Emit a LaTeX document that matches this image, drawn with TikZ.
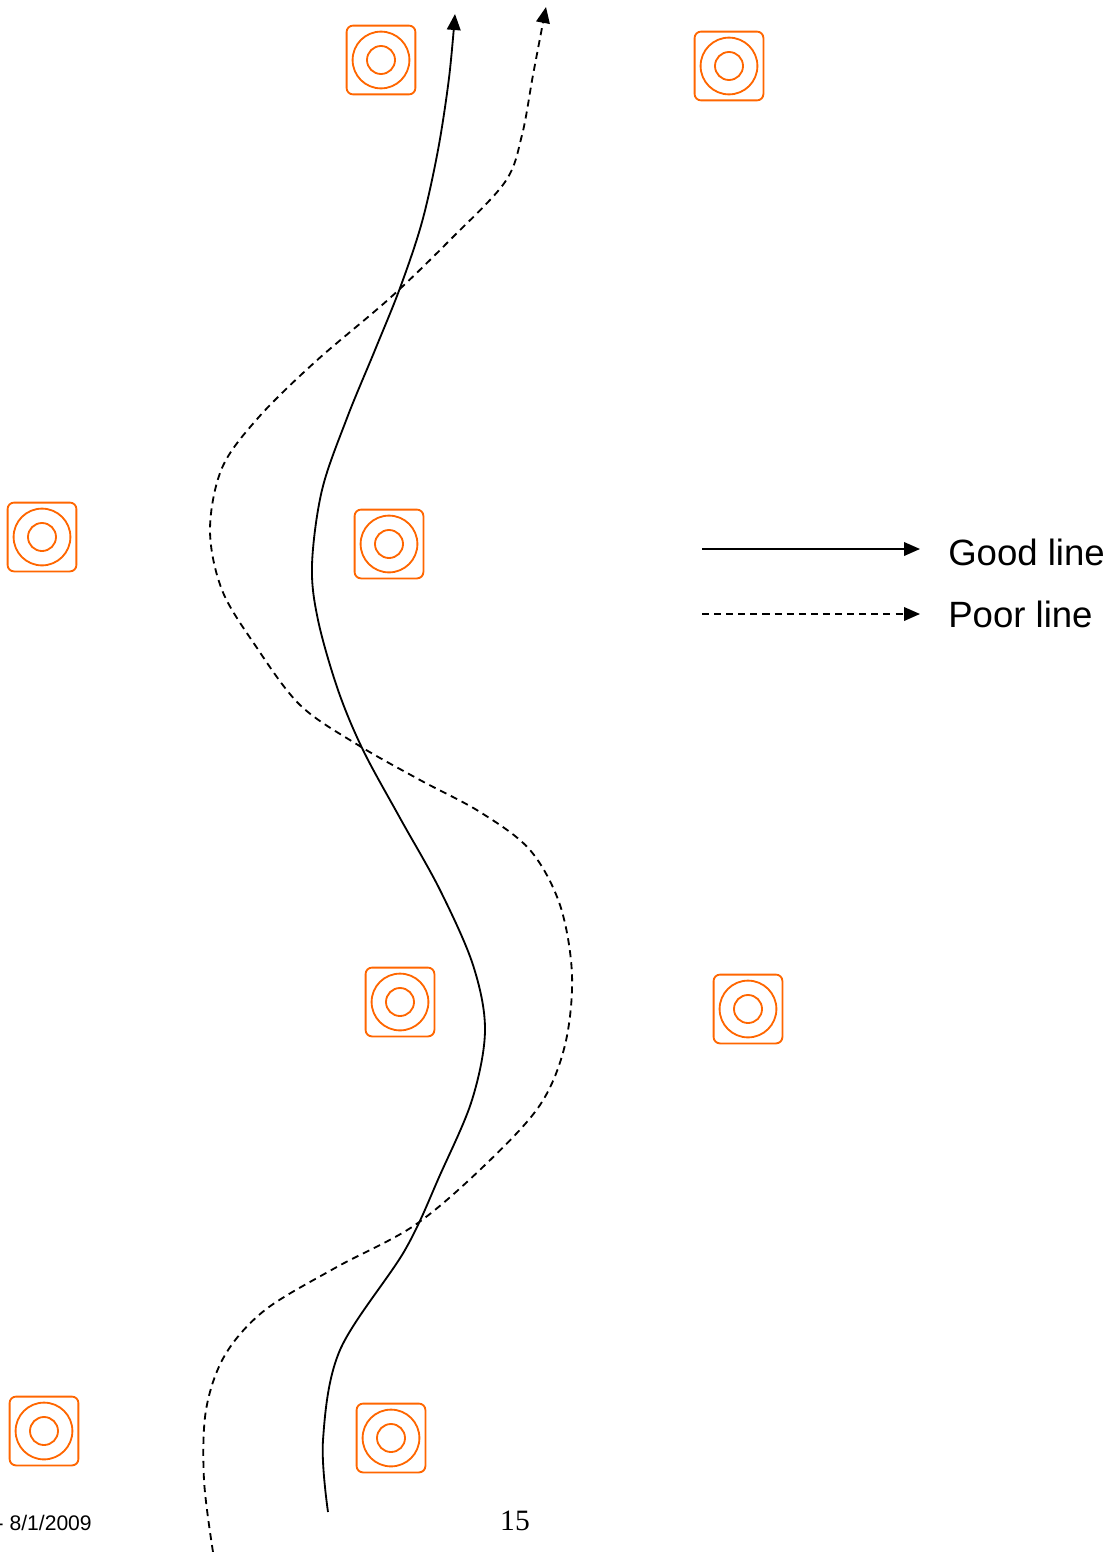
\documentclass[tikz,border=0pt]{standalone}
\usepackage{fontspec}
\setmainfont{Liberation Sans}
\newfontfamily\pagefont{Liberation Serif}
\usetikzlibrary{arrows.meta}
\definecolor{padorange}{RGB}{255,102,0}

\begin{document}
\begin{tikzpicture}[x=0.025cm,y=-0.025cm,>={Triangle[length=4mm,width=3.4mm]},
  pad/.style={draw=padorange,line width=1.3pt,rounded corners=1.6mm,minimum size=1.72cm,inner sep=0pt},
  ring/.style={draw=padorange,line width=1.3pt},
  good/.style={line width=1.3pt},
  poor/.style={line width=1.3pt,dash pattern=on 5pt off 3.6pt}]
\useasboundingbox (0,0) rectangle (1115,1552);

% pads
\foreach \n/\x/\y in {1/381/60,2/729/66,3/42/537,4/389/544,5/400/1002,6/748/1009,7/44/1431,8/391/1438}{
  \node[pad] (p\n) at (\x,\y) {};
  \draw[ring] (p\n.center) circle[radius=0.71cm];
  \draw[ring] (p\n.center) circle[radius=0.35cm];
}

% the two routes between the pads
\coordinate (g0) at (328,1512);
\coordinate (g1) at (455,14);
\coordinate (q0) at (213,1552);
\coordinate (q1) at (546,7);
\draw[good,->] plot[smooth,tension=0.55] coordinates {(g0) (323,1440) (340,1350) (405,1250) (440,1175)
  (472,1100) (485,1030) (473,965) (440,890) (400,818) (363,750) (338,690) (318,620) (312,565)
  (322,490) (347,418) (375,350) (400,288) (422,222) (438,150) (449,78) (g1)};
\draw[poor,->] plot[smooth,tension=0.55] coordinates {(q0) (204,1480) (206,1410) (225,1355) (265,1310)
  (335,1268) (415,1225) (485,1165) (540,1105) (565,1045) (572,975) (560,905) (530,850) (480,812)
  (420,780) (358,745) (300,705) (255,645) (222,590) (210,530) (222,468) (258,418) (315,362)
  (390,298) (450,240) (505,182) (522,135) (533,75) (q1)};

% legend
\coordinate (lg0) at (702,549);
\coordinate (lg1) at (920,549);
\coordinate (lp0) at (702,614);
\coordinate (lp1) at (920,614);
\draw[good,->] (lg0) -- (lg1);
\draw[poor,->] (lp0) -- (lp1);
\node[anchor=west,inner sep=0pt,font=\fontsize{26}{30}\selectfont] (tg) at (948,552) {Good line};
\node[anchor=west,inner sep=0pt,font=\fontsize{26}{30}\selectfont] (tp) at (948,614) {Poor line};

% footer
\node[anchor=base east,inner sep=0pt,font=\fontsize{15}{18}\selectfont] (date) at (92,1530) {- 8/1/2009};
\node[anchor=base,inner sep=0pt,font=\pagefont\fontsize{21}{24}\selectfont] (pg) at (515,1530) {15};
\end{tikzpicture}
\end{document}
